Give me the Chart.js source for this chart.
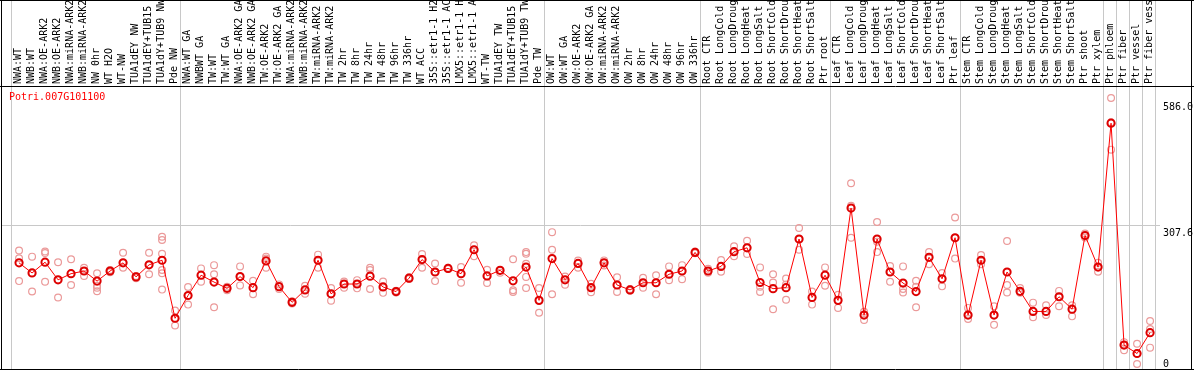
<!DOCTYPE html>
<html>
<head>
<meta charset="utf-8">
<script src="https://cdn.jsdelivr.net/npm/chart.js@4.4.1/dist/chart.umd.min.js"></script>
<style>
html,body{margin:0;padding:0;background:#fff;overflow:hidden;}
#wrap{width:1194px;height:370px;position:relative;}
</style>
</head>
<body>
<div id="wrap"><canvas id="c" width="1194" height="370"></canvas></div>
<script>
const geneName = "Potri.007G101100";

const categories = [
"NWA:WT","NWB:WT","NWA:OE-ARK2","NWB:OE-ARK2","NWA:miRNA-ARK2","NWB:miRNA-ARK2","NW 0hr","WT H2O","WT-NW","TUA1dEY NW","TUA1dEY+TUB15","TUA1dY+TUB9 NW","Pde NW",
"NWA:WT GA","NWBWT GA","TW:WT","TW:WT GA","NWA:OE-ARK2 GA","NWB:OE-ARK2 GA","TW:OE-ARK2","TW:OE-ARK2 GA","NWA:miRNA-ARK2","NWB:miRNA-ARK2","TW:miRNA-ARK2","TW:miRNA-ARK2","TW 2hr","TW 8hr","TW 24hr","TW 48hr","TW 96hr","TW 336hr","WT ACC","35S::etr1-1 H2","35S::etr1-1 AC","LMX5::etr1-1 H","LMX5::etr1-1 A","WT-TW","TUA1dEY TW","TUA1dEY+TUB15","TUA1dY+TUB9 TW","Pde TW",
"OW:WT","OW:WT GA","OW:OE-ARK2","OW:OE-ARK2 GA","OW:miRNA-ARK2","OW:miRNA-ARK2","OW 2hr","OW 8hr","OW 24hr","OW 48hr","OW 96hr","OW 336hr",
"Root CTR","Root LongCold","Root LongDroug","Root LongHeat","Root LongSalt","Root ShortCold","Root ShortDrou","Root ShortHeat","Root ShortSalt","Ptr root",
"Leaf CTR","Leaf LongCold","Leaf LongDroug","Leaf LongHeat","Leaf LongSalt","Leaf ShortCold","Leaf ShortDrou","Leaf ShortHeat","Leaf ShortSalt","Ptr leaf",
"Stem CTR","Stem LongCold","Stem LongDroug","Stem LongHeat","Stem LongSalt","Stem ShortCold","Stem ShortDrou","Stem ShortHeat","Stem ShortSalt","Ptr shoot","Ptr xylem",
"Ptr phloem","Ptr fiber","Ptr vessel","Ptr fiber vess"
];

// index of the first category of each group (separator lines drawn before them, plus one at the end)
const groupStarts = [0, 13, 41, 53, 63, 73, 84, 85, 86, 87];

const meanValues = [
223.8,201.5,225.3,186.3,199.9,205.8,183.5,205.8,223.8,192.8,219.4,229.6,101.2,
151.6,196.5,181.3,167.4,193.4,169.0,228.1,171.1,136.5,164.0,229.6,155.3,177.0,177.0,194.3,170.5,160.3,190.0,231.1,203.6,211.6,199.9,252.8,195.0,207.3,184.1,214.5,140.8,
233.3,186.3,222.5,169.0,223.8,174.8,164.0,179.8,179.8,198.6,205.8,246.9,
205.8,216.0,248.5,257.1,180.4,166.8,169.0,276.6,147.3,196.5,
140.8,345.1,108.3,276.6,203.6,179.1,160.3,236.1,188.5,279.4,
108.3,229.6,108.3,203.6,160.9,116.3,116.3,148.8,121.3,284.4,214.5,
532.9,41.8,23.2,69.3
];

const replicateValues = [
[251.3,233.9,183.5],[237.6,160.3,201.5],[249.1,245.4,182.0],[225.3,147.3,186.3],[231.8,174.8,199.9],[212.9,195.0,205.8],[200.8,173.3,169.0,160.9],[208.0,205.8,203.0],[246.3,212.9,223.8],[190.0,195.0,193.0],[246.3,198.6,219.4],[281.6,274.5,244.1,208.0,200.8,164.6],[118.5,85.1,101.2],
[170.5,131.5,151.6],[211.6,182.0,196.5],[218.8,198.6,125.6],[171.1,163.1,167.4],[216.0,173.9,193.4],[184.1,154.5,169.0],[237.6,233.3,213.0],[176.1,166.1,171.1],[134.0,139.0,136.5],[173.3,155.3,164.0],[242.0,212.9,229.6],[168.3,140.2,155.3],[182.6,169.0,177.0],[185.6,167.4,177.0],[212.9,208.0,166.1],[182.6,157.5,170.5],[158.0,162.0,160.3],[188.0,192.0,190.0],[243.3,212.9,231.1],[222.5,183.5,203.6],[210.0,213.0,211.6],[214.5,179.8,199.9],[262.8,238.3,252.8],[208.6,179.1,195.0],[207.3,202.1,207.3],[231.8,163.1,159.6],[247.6,244.1,221.6,192.8,168.3],[168.3,113.3,140.8],
[291.8,252.8,154.5],[193.4,175.5,186.3],[229.0,212.9,222.5],[177.6,158.8,169.0],[229.3,223.8,218.0],[192.1,159.6,174.8],[162.0,166.0,164.0],[190.6,169.0,179.8],[196.5,154.5,179.8],[216.0,185.6,198.6],[218.8,187.8,205.8],[245.0,249.0,246.9],
[210.8,202.1,205.8],[230.3,204.3,216.0],[260.6,238.3,248.5],[272.9,243.3,257.1],[213.8,171.1,159.6],[198.6,180.4,121.3],[189.1,176.1,142.3],[301.1,252.8,276.6],[160.3,131.5,147.3],[213.8,173.3,196.5],
[153.2,124.1,140.8],[400.1,350.3,279.4],[115.5,97.5,108.3],[314.1,270.8,247.6],[216.6,182.0,203.6],[216.0,166.1,158.1],[184.1,125.6,171.0],[247.6,221.0,236.1],[201.5,171.8,188.5],[324.3,233.3,279.4],
[124.1,99.6,108.3],[241.1,221.0,229.6],[127.8,86.6,108.3],[272.3,174.8,158.1],[168.3,157.5,160.9],[135.8,103.3,116.3],[130.0,108.3,116.3],[161.8,127.8,148.8],[130.0,105.5,121.3],[288.8,284.4,280.0],[223.8,204.3,214.5],
[588.6,474.4,535.0],[48.3,30.3,41.8],[44.8,0.0,23.2],[95.3,77.3,36.2]
];

const yTickValues = [586.0, 307.6, 0];
const yTickLabels = ["586.0", "307.6", "0"];
const yGridValues = [307.6];

// marks sit slightly right of the label column centre in the reference
const markShift = 0.12;

const meanPoints = meanValues.map((v, i) => ({x: i, y: v}));
const repPoints = [];
replicateValues.forEach((arr, i) => arr.forEach(v => repPoints.push({x: i, y: v})));

const MONO = '10px "DejaVu Sans Mono", "Liberation Mono", monospace';

const decor = {
  id: 'decor',
  beforeDraw(chart) {
    const ctx = chart.ctx, W = chart.width, H = chart.height;
    const xs = chart.scales.x, ys = chart.scales.y;
    ctx.save();
    ctx.fillStyle = '#fff';
    ctx.fillRect(0, 0, W, H);
    ctx.strokeStyle = '#c8c8c8';
    ctx.lineWidth = 1;
    yGridValues.forEach(v => {
      const py = Math.round(ys.getPixelForValue(v)) + 0.5;
      ctx.beginPath(); ctx.moveTo(1, py); ctx.lineTo(1160, py); ctx.stroke();
    });
    const bounds = groupStarts.map(i => xs.getPixelForValue(i - 0.5 - markShift));
    bounds.push(xs.getPixelForValue(categories.length - 0.5 - markShift));
    bounds.forEach(bx => {
      const px = Math.round(bx) + 0.5;
      ctx.beginPath(); ctx.moveTo(px, 0); ctx.lineTo(px, H); ctx.stroke();
    });
    ctx.restore();
  },
  afterDraw(chart) {
    const ctx = chart.ctx, W = chart.width, H = chart.height;
    const xs = chart.scales.x, ys = chart.scales.y;
    ctx.save();
    ctx.fillStyle = '#000';
    ctx.font = MONO;
    ctx.textAlign = 'left';
    ctx.textBaseline = 'middle';
    categories.forEach((lab, i) => {
      const px = xs.getPixelForValue(i - markShift);
      ctx.save();
      ctx.translate(px + 0.5, 84);
      ctx.rotate(-Math.PI / 2);
      ctx.fillText(lab, 0, 0);
      ctx.restore();
    });
    ctx.strokeStyle = '#000';
    ctx.lineWidth = 1;
    ctx.beginPath(); ctx.moveTo(0, 86.5); ctx.lineTo(W, 86.5); ctx.stroke();
    ctx.beginPath();
    ctx.moveTo(1.5, 0); ctx.lineTo(1.5, H);
    ctx.moveTo(1191.5, 0); ctx.lineTo(1191.5, H);
    ctx.moveTo(0, 0.5); ctx.lineTo(W, 0.5);
    ctx.moveTo(0, 369.5); ctx.lineTo(W, 369.5);
    ctx.stroke();
    ctx.fillStyle = '#ff0000';
    ctx.textBaseline = 'top';
    ctx.fillText(geneName, 9, 92);
    ctx.fillStyle = '#000';
    yTickValues.forEach((v, k) => {
      const py = ys.getPixelForValue(v);
      const ty = Math.min(py + 3, 359);
      ctx.fillText(yTickLabels[k], 1163, ty);
    });
    ctx.restore();
  }
};

new Chart(document.getElementById('c'), {
  type: 'line',
  data: {
    datasets: [
      {
        label: 'mean',
        data: meanPoints,
        borderColor: '#ff0000',
        borderWidth: 1,
        pointRadius: 3.6,
        pointBorderWidth: 2,
        pointBorderColor: '#dd0000',
        pointBackgroundColor: 'rgba(0,0,0,0)',
        pointStyle: 'circle',
        tension: 0,
        clip: false,
        order: 1
      },
      {
        label: 'replicates',
        data: repPoints,
        showLine: false,
        pointRadius: 3.4,
        pointBorderWidth: 1.2,
        pointBorderColor: '#eb9a9a',
        pointBackgroundColor: 'rgba(0,0,0,0)',
        clip: false,
        order: 2
      }
    ]
  },
  options: {
    responsive: false,
    animation: false,
    devicePixelRatio: 1,
    layout: { padding: { left: 11, right: 39, top: 86, bottom: 0 } },
    plugins: { legend: { display: false }, tooltip: { enabled: false } },
    scales: {
      x: { type: 'linear', min: -0.5 - markShift, max: categories.length - 0.5 - markShift, display: false },
      y: { type: 'linear', min: 0, max: 615.2, display: false }
    }
  },
  plugins: [decor]
});
</script>
</body>
</html>
